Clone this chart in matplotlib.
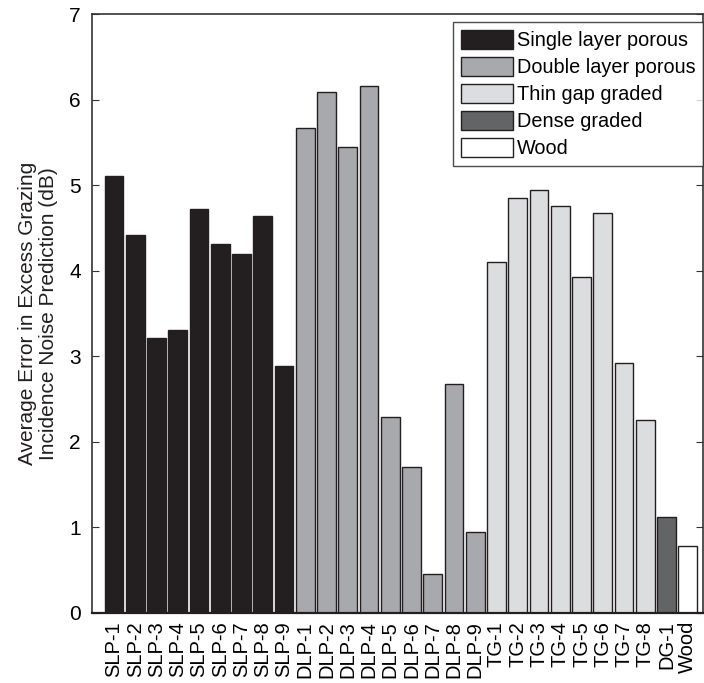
import matplotlib
matplotlib.use("Agg")
import matplotlib.pyplot as plt
from matplotlib.patches import Patch

plt.rcParams['font.family'] = ['Liberation Sans', 'DejaVu Sans']

labels = ["SLP-1", "SLP-2", "SLP-3", "SLP-4", "SLP-5", "SLP-6", "SLP-7", "SLP-8", "SLP-9",
          "DLP-1", "DLP-2", "DLP-3", "DLP-4", "DLP-5", "DLP-6", "DLP-7", "DLP-8", "DLP-9",
          "TG-1", "TG-2", "TG-3", "TG-4", "TG-5", "TG-6", "TG-7", "TG-8",
          "DG-1", "Wood"]
values = [5.11, 4.42, 3.21, 3.30, 4.72, 4.31, 4.19, 4.64, 2.88,
          5.67, 6.09, 5.44, 6.16, 2.285, 1.70, 0.455, 2.67, 0.94,
          4.10, 4.85, 4.94, 4.76, 3.92, 4.67, 2.92, 2.25,
          1.12, 0.775]
groups = ["SLP"] * 9 + ["DLP"] * 9 + ["TG"] * 8 + ["DG", "Wood"]
group_names = ["SLP", "DLP", "TG", "DG", "Wood"]
group_labels = ["Single layer porous", "Double layer porous", "Thin gap graded",
                "Dense graded", "Wood"]
group_colors = {"SLP": "#231f20", "DLP": "#a7a9ac", "TG": "#dcdddf",
                "DG": "#636466", "Wood": "#ffffff"}

fig = plt.figure(figsize=(7.04, 6.83), dpi=100)
ax = fig.add_axes([0.1307, 0.1031, 0.868, 0.8764])

x = list(range(len(labels)))
colors = [group_colors[g] for g in groups]
ax.bar(x, values, width=0.88, color=colors, edgecolor="#231f20", linewidth=1.0)

ax.set_xlim(-1.03, 27.72)
ax.set_ylim(0, 7)
ax.set_yticks(range(0, 8))
ax.set_xticks(x)
ax.set_xticklabels(labels, rotation=90, fontsize=14.5)
ax.tick_params(axis='y', direction='in', length=5, labelsize=15, left=True, right=True,
               color="#333333", pad=8)
ax.tick_params(axis='x', length=0, pad=6)
ax.set_ylabel("Average Error in Excess Grazing\nIncidence Noise Prediction (dB)",
              fontsize=15, color="#231f20", labelpad=8, linespacing=1.15)
for s in ax.spines.values():
    s.set_color("#333333")
    s.set_linewidth(1.2)
ax.spines['bottom'].set_color("#231f20")
ax.spines['bottom'].set_linewidth(1.6)

handles = [Patch(facecolor=group_colors[g], edgecolor="#231f20", linewidth=1.0)
           for g in group_names]
leg = ax.legend(handles, group_labels, loc='upper right', bbox_to_anchor=(1.0, 0.987),
                borderaxespad=0, fontsize=14.3, frameon=True, fancybox=False,
                edgecolor="#231f20", handlelength=2.6, handleheight=1.1,
                handletextpad=0.2, labelspacing=0.34, borderpad=0.4)
leg.get_frame().set_linewidth(1.0)

fig.savefig("out.png", dpi=100)
